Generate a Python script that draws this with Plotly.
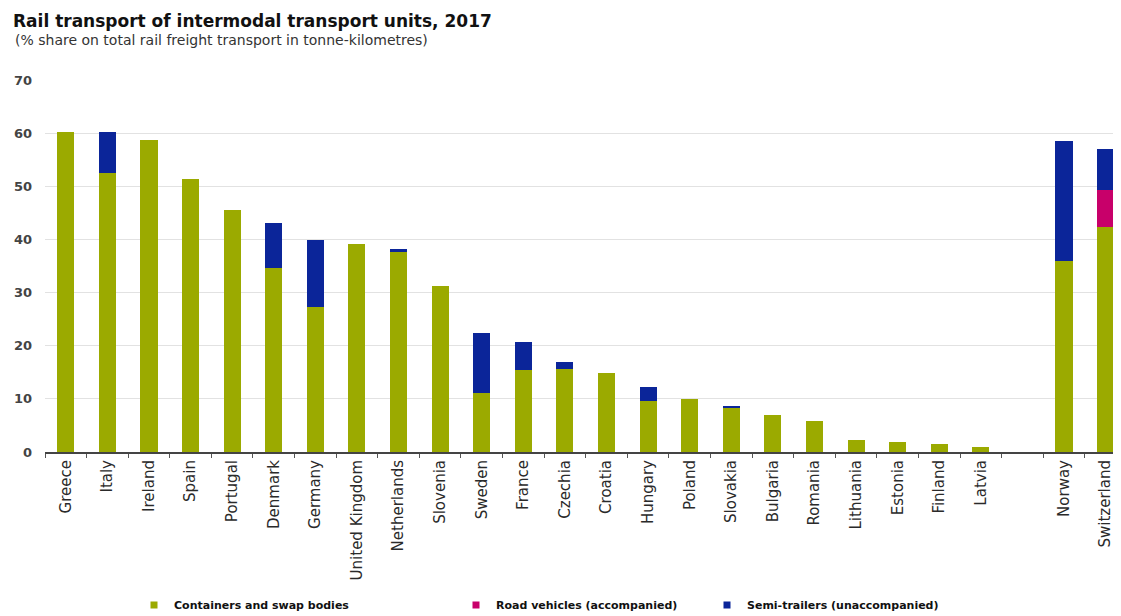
import plotly.graph_objects as go

countries = ["Greece", "Italy", "Ireland", "Spain", "Portugal", "Denmark", "Germany",
             "United Kingdom", "Netherlands", "Slovenia", "Sweden", "France", "Czechia",
             "Croatia", "Hungary", "Poland", "Slovakia", "Bulgaria", "Romania", "Lithuania",
             "Estonia", "Finland", "Latvia", " ", "Norway", "Switzerland"]
containers = [60.3, 52.5, 58.7, 51.3, 45.5, 34.7, 27.2, 39.1, 37.6, 31.2, 11.1, 15.5, 15.6,
              14.8, 9.6, 9.9, 8.3, 7.0, 5.8, 2.3, 1.8, 1.5, 0.9, None, 36.0, 42.3]
road = [0, 0, 0, 0, 0, 0, 0, 0, 0, 0, 0, 0, 0, 0, 0, 0, 0, 0, 0, 0, 0, 0, 0, None, 0, 7.0]
semi = [0, 7.8, 0, 0, 0, 8.3, 12.7, 0, 0.6, 0, 11.3, 5.2, 1.3, 0, 2.6, 0, 0.4, 0, 0, 0, 0, 0,
        0, None, 22.5, 7.7]
series_names = ["Containers and swap bodies", "Road vehicles (accompanied)",
                "Semi-trailers (unaccompanied)"]
series_colors = ["#9BAA00", "#C8006A", "#0B2599"]
yticks = [0, 10, 20, 30, 40, 50, 60, 70]

FONT = "DejaVu Sans, Arial, sans-serif"
W, H = 1113, 608  # page adds 8px body margin
L, T, B = 37, 72, 164
PW, PH = W - L, H - T - B

fig = go.Figure()
for vals, name, col in zip([containers, road, semi], series_names, series_colors):
    fig.add_bar(x=countries, y=vals, name=name, marker_color=col, marker_line_width=0,
                showlegend=False)
# small square legend symbols, each in its own legend box
legend_ids = ["legend", "legend2", "legend3"]
for name, col, lid in zip(series_names, series_colors, legend_ids):
    fig.add_scatter(x=[None], y=[None], mode="markers", name=name, legend=lid,
                    marker=dict(symbol="square", size=7, color=col), showlegend=True)

legend_left = [126, 448, 699]
legend_common = dict(orientation="h", xanchor="left", yref="container", y=1 - 597 / H,
                     yanchor="middle",
                     font=dict(size=11, color="#111111", family=FONT, weight="bold"),
                     itemwidth=30, bgcolor="rgba(0,0,0,0)")

fig.update_layout(
    barmode="stack",
    bargap=0.59,
    width=W, height=H,
    paper_bgcolor="white", plot_bgcolor="white",
    margin=dict(l=L, r=0, t=T, b=B, autoexpand=False),
    font=dict(family=FONT, color="#333333"),
    title=dict(text="<b>Rail transport of intermodal transport units, 2017</b>",
               xref="container", x=5 / W, xanchor="left",
               yref="container", y=1 - 13 / H, yanchor="middle",
               font=dict(size=17, color="#111111", family=FONT)),
    annotations=[dict(text="(% share on total rail freight transport in tonne-kilometres)",
                      xref="paper", yref="paper", x=-32 / PW, y=(H - B - 32) / PH,
                      xanchor="left", yanchor="middle", showarrow=False,
                      font=dict(size=14, color="#333333", family=FONT))],
    showlegend=True,
    legend=dict(x=(legend_left[0] - L) / PW, **legend_common),
    legend2=dict(x=(legend_left[1] - L) / PW, **legend_common),
    legend3=dict(x=(legend_left[2] - L) / PW, **legend_common),
)
fig.update_xaxes(type="category", range=[-0.5, 25.37], showgrid=False, automargin=False,
                 showline=True, linecolor="#444444", linewidth=2,
                 ticks="outside", tickson="boundaries", ticklen=4, tickcolor="#555555",
                 tickangle=-90, tickfont=dict(size=15, color="#2A2A2A"))
fig.update_yaxes(range=[0, 70], tickvals=yticks, showgrid=True, gridcolor="#E2E2E2",
                 gridwidth=1, zeroline=False, showline=False, ticks="", automargin=False,
                 tickfont=dict(size=13, color="#444444", weight="bold"),
                 ticklabelstandoff=12)

fig.write_html("out.html")
